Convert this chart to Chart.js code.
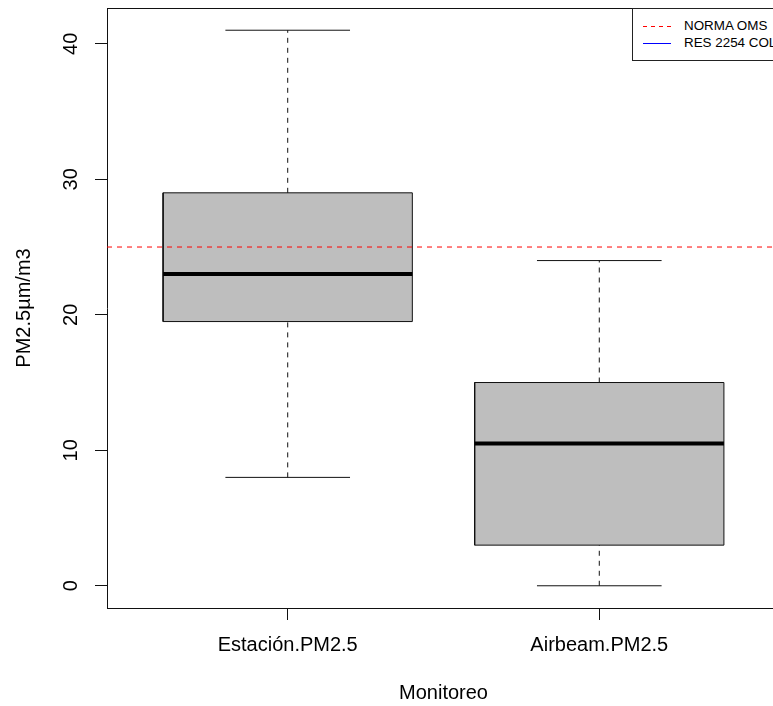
<!DOCTYPE html>
<html>
<head>
<meta charset="utf-8">
<script src="https://cdn.jsdelivr.net/npm/chart.js@4.4.1/dist/chart.umd.min.js"></script>
<style>
  html, body { margin: 0; padding: 0; overflow: hidden; background: #fff; width: 773px; height: 706px; }
  #wrap { position: absolute; left: 0; top: 0; width: 800px; height: 706px; }
  #legend { position: absolute; left: 632px; top: 8px; width: 200px; height: 51px; border: 1px solid #222; background: #fff;
            font-family: 'Liberation Sans', Arial, sans-serif; font-size: 13.4px; color: #000; }
  .row { position: absolute; left: 0; height: 16px; white-space: nowrap; }
  .row svg { position: absolute; left: 10px; top: 0; }
  .row span { position: absolute; left: 51px; top: 0; line-height: 16px; }
</style>
</head>
<body>
<div id="wrap"><canvas id="c" width="800" height="706"></canvas></div>
<div id="legend"></div>
<script>
// ---- data ----
const categories   = ['Estación.PM2.5', 'Airbeam.PM2.5'];
const whiskerLow   = [8, 0];
const q1           = [19.5, 3];
const median       = [23, 10.5];
const q3           = [29, 15];
const whiskerHigh  = [41, 24];
const yTicks       = [0, 10, 20, 30, 40];
const normaOMS     = 25;
const legendLabels = ['NORMA OMS', 'RES 2254 COL'];
const legendColors = ['#ff0000', '#0000ff'];

// axis ranges like R (4% extension)
const dMin = Math.min(...whiskerLow), dMax = Math.max(...whiskerHigh);
const yMin = dMin - 0.04 * (dMax - dMin), yMax = dMax + 0.04 * (dMax - dMin);
const xMin = 0.5 - 0.04 * 2, xMax = categories.length + 0.5 + 0.04 * 2;

const FONT = "'Liberation Sans', Arial, sans-serif";
Chart.defaults.font.family = FONT;
Chart.defaults.font.size = 20;
Chart.defaults.color = '#000';

const datasets = [];
datasets.push({
  label: legendLabels[0], order: 0,
  data: [{x: xMin, y: normaOMS}, {x: xMax, y: normaOMS}],
  showLine: true, borderColor: legendColors[0], borderWidth: 1, borderDash: [5, 5],
  pointRadius: 0, fill: false
});
categories.forEach((c, i) => {
  const x = i + 1, hw = 0.4, cw = 0.2;
  datasets.push({
    label: c + ' box', order: 5,
    data: [{x: x - hw, y: q1[i]}, {x: x + hw, y: q1[i]}, {x: x + hw, y: q3[i]}, {x: x - hw, y: q3[i]}, {x: x - hw, y: q1[i]}],
    showLine: true, fill: 'shape', backgroundColor: '#bebebe', borderColor: '#111', borderWidth: 1,
    pointRadius: 0, tension: 0
  });
  datasets.push({
    label: c + ' median', order: 2,
    data: [{x: x - hw, y: median[i]}, {x: x + hw, y: median[i]}],
    showLine: true, borderColor: '#000', borderWidth: 4, pointRadius: 0, fill: false, borderCapStyle: 'butt'
  });
  datasets.push({
    label: c + ' upper whisker', order: 3,
    data: [{x: x, y: q3[i]}, {x: x, y: whiskerHigh[i]}],
    showLine: true, borderColor: '#111', borderWidth: 1, borderDash: [5, 5], pointRadius: 0, fill: false
  });
  datasets.push({
    label: c + ' lower whisker', order: 3,
    data: [{x: x, y: whiskerLow[i]}, {x: x, y: q1[i]}],
    showLine: true, borderColor: '#111', borderWidth: 1, borderDash: [5, 5], pointRadius: 0, fill: false
  });
  datasets.push({
    label: c + ' upper cap', order: 3,
    data: [{x: x - cw, y: whiskerHigh[i]}, {x: x + cw, y: whiskerHigh[i]}],
    showLine: true, borderColor: '#111', borderWidth: 1, pointRadius: 0, fill: false
  });
  datasets.push({
    label: c + ' lower cap', order: 3,
    data: [{x: x - cw, y: whiskerLow[i]}, {x: x + cw, y: whiskerLow[i]}],
    showLine: true, borderColor: '#111', borderWidth: 1, pointRadius: 0, fill: false
  });
});

const framePlugin = {
  id: 'frame',
  afterDraw(chart) {
    const ctx = chart.ctx, a = chart.chartArea, ys = chart.scales.y;
    ctx.save();
    ctx.strokeStyle = '#111'; ctx.lineWidth = 1;
    ctx.beginPath();
    ctx.moveTo(Math.round(a.left) + 0.5, Math.round(a.top) + 0.5);
    ctx.lineTo(Math.round(a.right) + 0.5, Math.round(a.top) + 0.5);
    ctx.stroke();
    ctx.fillStyle = '#000';
    ctx.font = '20px ' + FONT;
    ctx.textAlign = 'center'; ctx.textBaseline = 'middle';
    yTicks.forEach(v => {
      const py = ys.getPixelForValue(v);
      ctx.save();
      ctx.translate(71, py);
      ctx.rotate(-Math.PI / 2);
      ctx.fillText(String(v), 0, 0);
      ctx.restore();
    });
    ctx.restore();
  }
};

new Chart(document.getElementById('c'), {
  type: 'scatter',
  data: { datasets },
  options: {
    responsive: false, animation: false, devicePixelRatio: 1,
    layout: { padding: { left: 0, top: 8, right: 20, bottom: 0 } },
    plugins: { legend: { display: false }, tooltip: { enabled: false } },
    scales: {
      x: {
        type: 'linear', min: xMin, max: xMax,
        afterBuildTicks: s => { s.ticks = categories.map((c, i) => ({value: i + 1})); },
        afterFit: s => { s.height = 98; },
        ticks: { autoSkip: false, maxRotation: 0, minRotation: 0, padding: 13,
                 callback: v => categories[Math.round(v) - 1] },
        grid: { drawOnChartArea: false, drawTicks: true, tickLength: 12, color: '#111' },
        border: { display: true, color: '#111', width: 1 },
        title: { display: true, text: 'Monitoreo', padding: { top: 0, bottom: 1 } }
      },
      y: {
        type: 'linear', min: yMin, max: yMax,
        afterBuildTicks: s => { s.ticks = yTicks.map(v => ({value: v})); },
        afterFit: s => { s.width = 107; s.paddingTop = 0; s.paddingBottom = 0; },
        ticks: { display: false },
        grid: { drawOnChartArea: false, drawTicks: true, tickLength: 12, color: '#111' },
        border: { display: true, color: '#111', width: 1 },
        title: { display: true, text: 'PM2.5µm/m3', padding: { top: 12, bottom: 0 } }
      }
    }
  },
  plugins: [framePlugin]
});

// legend box (top-right, partly clipped like the reference)
const lg = document.getElementById('legend');
legendLabels.forEach((t, i) => {
  const row = document.createElement('div');
  row.className = 'row';
  row.style.top = (9 + i * 17) + 'px';
  const dash = i === 0 ? 'stroke-dasharray="4,4"' : '';
  row.innerHTML = '<svg width="30" height="16"><line x1="0" y1="8.5" x2="28" y2="8.5" stroke="' + legendColors[i] + '" stroke-width="1" ' + dash + '/></svg><span>' + t + '</span>';
  lg.appendChild(row);
});
</script>
</body>
</html>
